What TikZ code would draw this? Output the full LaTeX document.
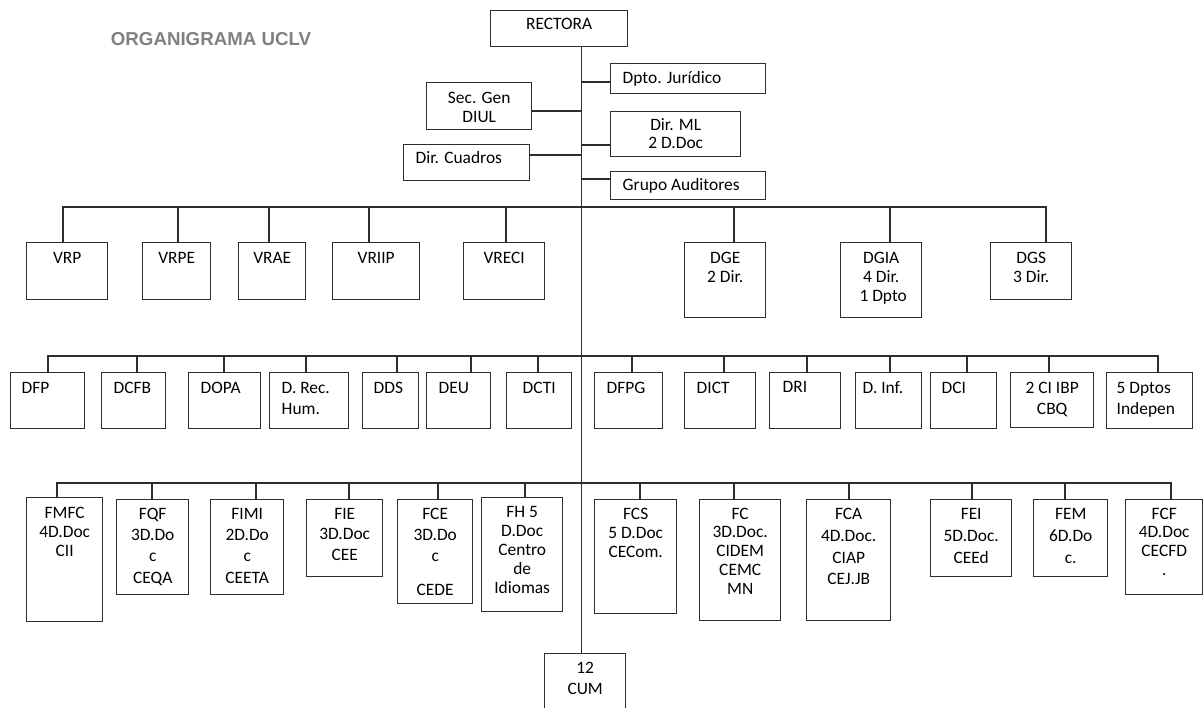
\documentclass[tikz,border=0pt]{standalone}
\usepackage{fontspec}
\setmainfont{Carlito}
\newfontfamily\titulofont{Liberation Sans}
\definecolor{linea}{RGB}{45,45,45}
\definecolor{gris}{RGB}{128,128,128}
% box text: width, height, top gap, line spacing, alignment, text
\newcommand{\bloque}[6]{\parbox[t][#2pt][t]{#1pt}{\fontsize{17.4}{#4}\selectfont#5\vspace*{#3pt}\rule{0pt}{13pt}#6}}
\newcommand{\izq}[1]{\raggedright\leftskip=#1pt\relax}

\begin{document}
\begin{tikzpicture}[x=1pt, y=-1pt, line width=1.4pt,
    caja/.style={draw=linea, line width=1.4pt, inner sep=0pt, anchor=north west}]
    \path[fill=white, use as bounding box] (0,0) rectangle (1203,708);
    \node[font={\titulofont\bfseries\fontsize{18.7}{22}\selectfont}, text=gris, anchor=base, inner sep=0pt] (titulo) at (211,46) {ORGANIGRAMA UCLV};
    \coordinate (tronco) at (581.5,0);

    % Rectora and staff
    \node[caja] (rectora) at (490,10) {\bloque{137}{36}{6}{20}{\centering}{RECTORA}};
    \node[caja] (juridico) at (610,63) {\bloque{155}{30}{7.3}{20}{\izq{12}}{Dpto. Jurídico}};
    \node[caja] (secgen) at (426,82) {\bloque{105}{47}{7.7}{19}{\centering}{Sec. Gen\\DIUL}};
    \node[caja] (dirml) at (610,111) {\bloque{130}{45}{6}{18}{\centering}{Dir. ML\\2 D.Doc}};
    \node[caja] (cuadros) at (403,144) {\bloque{126}{36}{6.3}{20}{\izq{12}}{Dir. Cuadros}};
    \node[caja] (auditores) at (610,171) {\bloque{155}{28}{6}{20}{\izq{12}}{Grupo Auditores}};

    % Vicerrectorias
    \node[caja] (vrp) at (26,242) {\bloque{81}{57}{7.7}{19}{\centering}{VRP}};
    \node[caja] (vrpe) at (142,242) {\bloque{68}{57}{7.7}{19}{\centering}{VRPE}};
    \node[caja] (vrae) at (238,242) {\bloque{67}{57}{7.7}{19}{\centering}{VRAE}};
    \node[caja] (vriip) at (332,242) {\bloque{87}{57}{7.7}{19}{\centering}{VRIIP}};
    \node[caja] (vreci) at (463,242) {\bloque{81}{57}{7.7}{19}{\centering}{VRECI}};
    \node[caja] (dge) at (684,242) {\bloque{81}{75}{7.7}{19}{\centering}{DGE\\2 Dir.}};
    \node[caja] (dgia) at (840,242) {\bloque{81}{75}{7.7}{19}{\centering}{DGIA\\4 Dir.\\\hspace*{4pt}1 Dpto}};
    \node[caja] (dgs) at (990,242) {\bloque{81}{57}{7.7}{19}{\centering}{DGS\\3 Dir.}};

    % Direcciones
    \node[caja] (dfp) at (10,372) {\bloque{74}{56}{7.5}{21}{\izq{11}}{DFP}};
    \node[caja] (dcfb) at (101,372) {\bloque{64}{56}{7.5}{21}{\izq{12}}{DCFB}};
    \node[caja] (dopa) at (188,372) {\bloque{72}{56}{7.5}{21}{\izq{12}}{DOPA}};
    \node[caja] (drh) at (269,372) {\bloque{79}{56}{7.5}{21}{\izq{12}}{D. Rec.\\Hum.}};
    \node[caja] (dds) at (362,372) {\bloque{56}{56}{7.5}{21}{\izq{11}}{DDS}};
    \node[caja] (deu) at (426,372) {\bloque{64}{56}{7.5}{21}{\izq{12}}{DEU}};
    \node[caja] (dcti) at (506,372) {\bloque{65}{56}{7.5}{21}{\centering}{DCTI}};
    \node[caja] (dfpg) at (594,372) {\bloque{68}{56}{7.5}{21}{\izq{12}}{DFPG}};
    \node[caja] (dict) at (684,372) {\bloque{71}{56}{7.5}{21}{\izq{12}}{DICT}};
    \node[caja] (dri) at (769,372) {\bloque{71}{56}{6.5}{21}{\izq{13}}{DRI}};
    \node[caja] (dinf) at (855,372) {\bloque{66}{56}{7.5}{21}{\izq{7}}{D. Inf.}};
    \node[caja] (dci) at (930,372) {\bloque{66}{56}{7.5}{21}{\izq{11}}{DCI}};
    \node[caja] (cibp) at (1010,372) {\bloque{83}{55}{7.5}{21}{\centering}{2 CI IBP\\CBQ}};
    \node[caja] (dptos) at (1106,372) {\bloque{86}{56}{7.5}{21}{\izq{10}}{5 Dptos\\Indepen}};

    % Facultades
    \node[caja] (fmfc) at (26,497) {\bloque{76}{124}{8.3}{19}{\centering}{FMFC\\4D.Doc\\CII}};
    \node[caja] (fqf) at (116,499) {\bloque{72}{95}{6.3}{21.5}{\centering}{FQF\\3D.Do\\c\\CEQA}};
    \node[caja] (fimi) at (210,499) {\bloque{73}{95}{6.3}{21.5}{\centering}{FIMI\\2D.Do\\c\\CEETA}};
    \node[caja] (fie) at (306,499) {\bloque{76}{77}{6.3}{21}{\centering}{FIE\\3D.Doc\\CEE}};
    \node[caja] (fce) at (397,499) {\bloque{75}{104}{6.3}{21.5}{\centering}{FCE\\3D.Do\\c\\[12pt]CEDE}};
    \node[caja] (fh) at (481,497) {\bloque{81}{114}{7.3}{19}{\centering}{FH 5\\D.Doc\\Centro\\de\\Idiomas}};
    \node[caja] (fcs) at (594,499) {\bloque{82}{114}{6.3}{19.5}{\centering}{FCS\\5 D.Doc\\CECom.}};
    \node[caja] (fc) at (699,499) {\bloque{81}{121}{6.3}{19}{\centering}{FC\\3D.Doc.\\CIDEM\\CEMC\\MN}};
    \node[caja] (fca) at (806,499) {\bloque{84}{121}{6.3}{22}{\centering}{FCA\\4D.Doc.\\CIAP\\CEJ.JB}};
    \node[caja] (fei) at (930,499) {\bloque{81}{77}{6.3}{22}{\centering}{FEI\\5D.Doc.\\CEEd}};
    \node[caja] (fem) at (1033,499) {\bloque{74}{77}{6.3}{22}{\centering}{FEM\\6D.Do\\c.}};
    \node[caja] (fcf) at (1125,499) {\bloque{77}{95}{6.3}{19}{\centering}{FCF\\4D.Doc\\CECFD\\.}};
    \node[caja] (cum) at (544,653) {\bloque{81}{62}{6.3}{21}{\centering}{12\\CUM}};

    % Connectors
    \draw[linea] (tronco |- rectora.south) -- (tronco |- cum.north);
    \draw[linea] (juridico.west |- 0,82) -- (tronco |- 0,82);
    \draw[linea] (secgen.east |- 0,111) -- (tronco |- 0,111);
    \draw[linea] (dirml.west |- 0,145) -- (tronco |- 0,145);
    \draw[linea] (cuadros.east |- 0,155) -- (tronco |- 0,155);
    \draw[linea] (auditores.west |- 0,179) -- (tronco |- 0,179);
    \foreach \n/\x in {vrp/63,vrpe/178,vrae/269,vriip/369,vreci/506,dge/734,dgia/890,dgs/1046}
        \draw[linea] (\x,0 |- \n.north) |- (tronco |- 0,207);
    \foreach \n/\x in {dfp/48,dcfb/137,dopa/224,drh/306,dds/397,deu/471,dcti/538,dfpg/632,dict/724,dri/807,dinf/890,dci/967,cibp/1049,dptos/1158}
        \draw[linea] (\x,0 |- \n.north) |- (tronco |- 0,356);
    \foreach \n/\x in {fmfc/57,fqf/152,fimi/256,fie/349,fce/438,fh/525,fcs/640,fc/734,fca/849,fei/972,fem/1065,fcf/1171}
        \draw[linea] (\x,0 |- \n.north) |- (tronco |- 0,483);
\end{tikzpicture}
\end{document}
